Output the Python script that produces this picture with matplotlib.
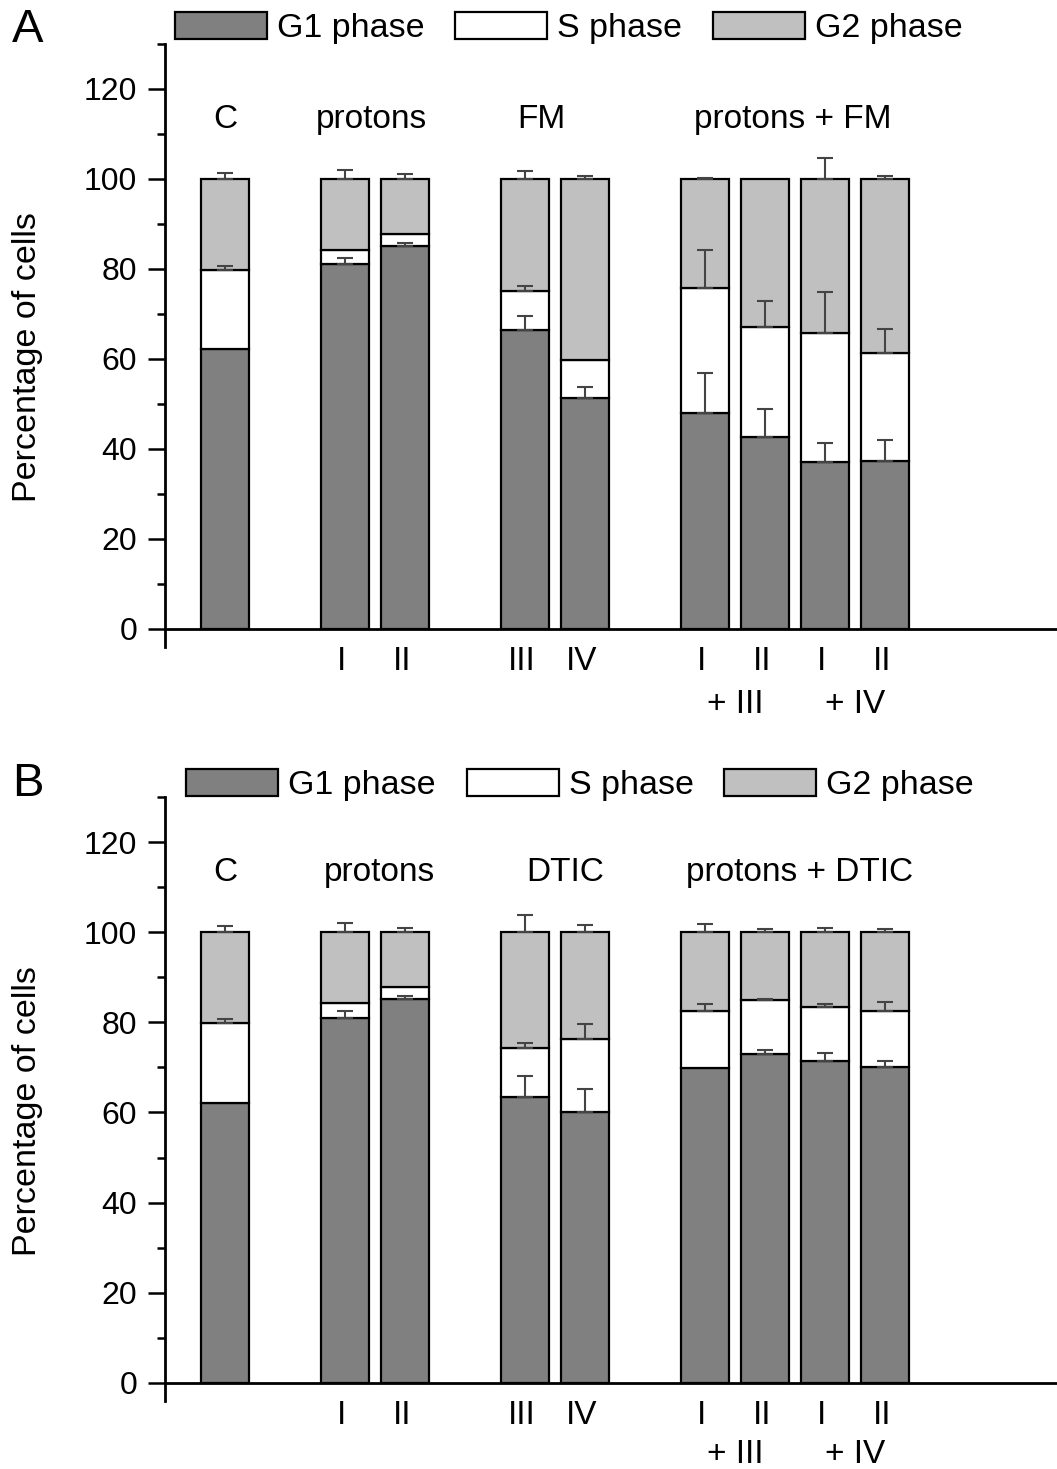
import numpy as np
import matplotlib.pyplot as plt
from matplotlib.patches import Patch
from matplotlib.ticker import MultipleLocator

plt.rcParams["font.family"] = ["Liberation Sans", "DejaVu Sans"]

# ===================== data =====================
# bar slots: C, protons I/II, drug III/IV, protons+drug (4 combos)
bar_pos = [0, 2, 3, 5, 6, 8, 9, 10, 11]

# panel A (FM)
a_g1 = [62.2, 81.0, 85.1, 66.4, 51.3, 47.9, 42.7, 37.0, 37.4]
a_s = [17.6, 3.2, 2.7, 8.8, 8.5, 27.8, 24.5, 28.7, 23.9]
a_g2 = [20.2, 15.8, 12.2, 24.8, 40.2, 24.3, 32.8, 34.3, 38.7]
a_g1_err = [0.0, 1.5, 0.7, 3.2, 2.5, 8.9, 6.1, 4.3, 4.5]
a_s_err = [0.9, 0.0, 0.0, 1.0, 0.0, 8.4, 5.7, 9.1, 5.3]
a_g2_err = [1.3, 2.0, 1.0, 1.8, 0.6, 0.3, 0.0, 4.7, 0.6]

# panel B (DTIC)
b_g1 = [62.2, 81.0, 85.1, 63.5, 60.2, 69.8, 72.9, 71.5, 70.1]
b_s = [17.6, 3.2, 2.7, 10.9, 16.1, 12.8, 12.0, 11.8, 12.5]
b_g2 = [20.2, 15.8, 12.2, 25.6, 23.7, 17.4, 15.1, 16.7, 17.4]
b_g1_err = [0.0, 1.5, 0.7, 4.7, 4.9, 0.0, 0.9, 1.7, 1.4]
b_s_err = [0.9, 0.0, 0.0, 1.1, 3.4, 1.4, 0.2, 0.7, 1.9]
b_g2_err = [1.3, 2.0, 1.0, 3.7, 1.6, 1.8, 0.8, 1.0, 0.8]

tick_row1 = ["I", "II", "III", "IV", "I", "II", "I", "II"]
tick_row2 = ["+ III", "+ IV"]

a_groups = ["C", "protons", "FM", "protons + FM"]
a_group_x = [0, 2.45, 5.27, 9.47]
b_groups = ["C", "protons", "DTIC", "protons + DTIC"]
b_group_x = [0, 2.58, 5.67, 9.58]

phases = ["G1 phase", "S phase", "G2 phase"]
colors = ["#808080", "#ffffff", "#c0c0c0"]

fig = plt.figure(figsize=(10.57, 14.69), dpi=100)


def draw_panel(rect, g1, s, g2, g1_err, s_err, g2_err, groups, group_x, letter,
               leg_x, leg_y, letter_y, row2_y):
    ax = fig.add_axes(rect)
    x = np.array(bar_pos, dtype=float)
    g1 = np.array(g1)
    s = np.array(s)
    g2 = np.array(g2)
    bottoms = [np.zeros_like(g1), g1, g1 + s]
    for vals, bot, c in zip([g1, s, g2], bottoms, colors):
        ax.bar(x, vals, 0.8, bottom=bot, color=c, edgecolor="black", linewidth=1.6, zorder=2)

    # upward-only error bars at each segment top
    for vals, bot, err in zip([g1, s, g2], bottoms, [g1_err, s_err, g2_err]):
        err = np.array(err)
        m = err > 0
        tops = (bot + vals)[m]
        ax.errorbar(x[m], tops, yerr=[np.zeros(m.sum()), err[m]], fmt="none",
                    ecolor="#444444", elinewidth=1.5, capsize=6, capthick=1.5, zorder=3)

    ax.set_xlim(-1, 13.87)
    ax.set_ylim(-4, 130)
    ax.spines["top"].set_visible(False)
    ax.spines["right"].set_visible(False)
    ax.spines["bottom"].set_position(("data", 0))
    ax.spines["left"].set_linewidth(2)
    ax.spines["bottom"].set_linewidth(2)
    ax.set_xticks([])
    ax.yaxis.set_major_locator(MultipleLocator(20))
    ax.yaxis.set_minor_locator(MultipleLocator(10))
    ax.set_yticks(range(0, 121, 20))
    ax.tick_params(axis="y", which="major", length=12, width=1.8, labelsize=23, pad=8)
    ax.tick_params(axis="y", which="minor", length=6, width=1.8)
    ax.set_ylabel("Percentage of cells", fontsize=24.5)
    ax.yaxis.set_label_coords(-0.137, 0.48)

    for lab, gx in zip(groups, group_x):
        ax.text(gx, 113.2, lab, ha="center", va="center", fontsize=24)

    # category labels under the axis
    for lab, bx in zip(tick_row1, bar_pos[1:]):
        ax.text(bx - 0.05, -7.3, lab, ha="center", va="center", fontsize=24, clip_on=False)
    for lab, bx in zip(tick_row2, [(bar_pos[5] + bar_pos[6]) / 2, (bar_pos[7] + bar_pos[8]) / 2]):
        ax.text(bx, row2_y, lab, ha="center", va="center", fontsize=24, clip_on=False)

    handles = [Patch(facecolor=c, edgecolor="black", linewidth=1.6) for c in colors]
    fig.legend(handles, phases, loc="center", bbox_to_anchor=(leg_x, leg_y), ncol=3,
               frameon=False, fontsize=24.5, handlelength=2.7, handleheight=0.85,
               handletextpad=0.3, columnspacing=0.9, borderaxespad=0, borderpad=0)
    fig.text(0.011, letter_y, letter, fontsize=34, ha="left", va="center")
    return ax


draw_panel([0.1561, 0.5596, 0.8439, 0.4105], a_g1, a_s, a_g2, a_g1_err, a_s_err, a_g2_err,
           a_groups, a_group_x, "A", 0.538, 0.981, 0.9796, -16.7)
draw_panel([0.1561, 0.0463, 0.8439, 0.4112], b_g1, b_s, b_g2, b_g1_err, b_s_err, b_g2_err,
           b_groups, b_group_x, "B", 0.549, 0.4656, 0.4663, -15.8)

plt.savefig("out.png", dpi=100)
